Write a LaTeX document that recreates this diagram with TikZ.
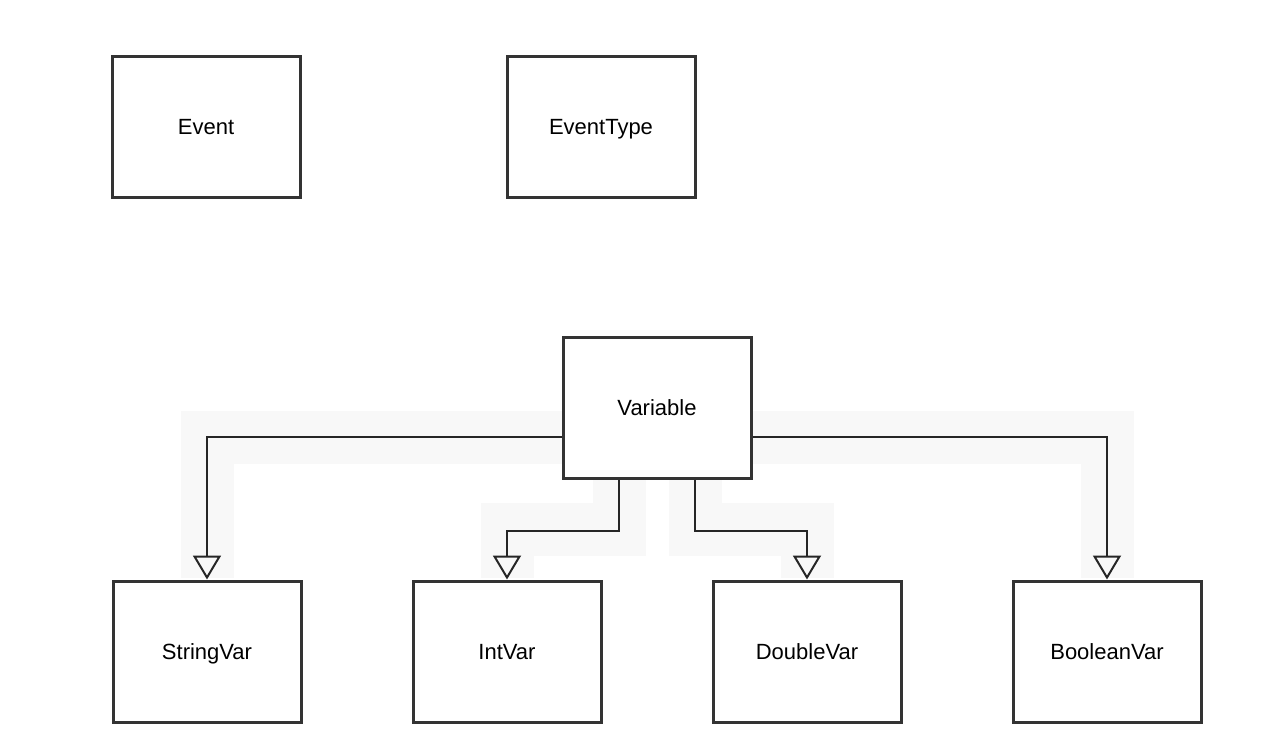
\documentclass[tikz,border=0pt]{standalone}
\usepackage{fontspec}
\setmainfont{Liberation Sans}
\usetikzlibrary{arrows.meta}
\definecolor{boxline}{HTML}{333333}
\definecolor{band}{HTML}{F8F8F8}
\tikzset{
  cls/.style={draw=boxline, line width=3pt, fill=white, minimum width=188pt, minimum height=141pt, inner sep=0pt, text height=18pt, text depth=2pt, font=\fontsize{22pt}{26pt}\selectfont},
  conn/.style={draw=black!85, line width=2pt, -{Triangle[open, length=24pt, width=28pt, line width=2pt]}},
  hl/.style={draw=band, line width=53pt, line join=miter}
}
\begin{document}
\begin{tikzpicture}[x=1pt, y=-1pt]
\useasboundingbox[fill=white] (0,0) rectangle (1262,744);
% highlight bands
\draw[hl] (563,437) -| (207,578);
\draw[hl] (751,437) -| (1107,578);
\draw[hl] (619,478) -- (619,529) -| (507,578);
\draw[hl] (695,478) -- (695,529) -| (807,578);
% boxes
\node[cls] (ev) at (206,126.5) {Event};
\node[cls] (et) at (601,126.5) {EventType};
\node[cls] (var) at (657,407.5) {Variable};
\node[cls] (sv) at (207,651.5) {StringVar};
\node[cls] (iv) at (507,651.5) {IntVar};
\node[cls] (dv) at (807,651.5) {DoubleVar};
\node[cls] (bv) at (1107,651.5) {BooleanVar};
% connectors
\draw[conn] ([yshift=-29.5pt]var.west) -| (sv.north);
\draw[conn] ([yshift=-29.5pt]var.east) -| (bv.north);
\draw[conn] ([xshift=-38pt]var.south) -- ++(0,51) -| (iv.north);
\draw[conn] ([xshift=38pt]var.south) -- ++(0,51) -| (dv.north);
\end{tikzpicture}
\end{document}
